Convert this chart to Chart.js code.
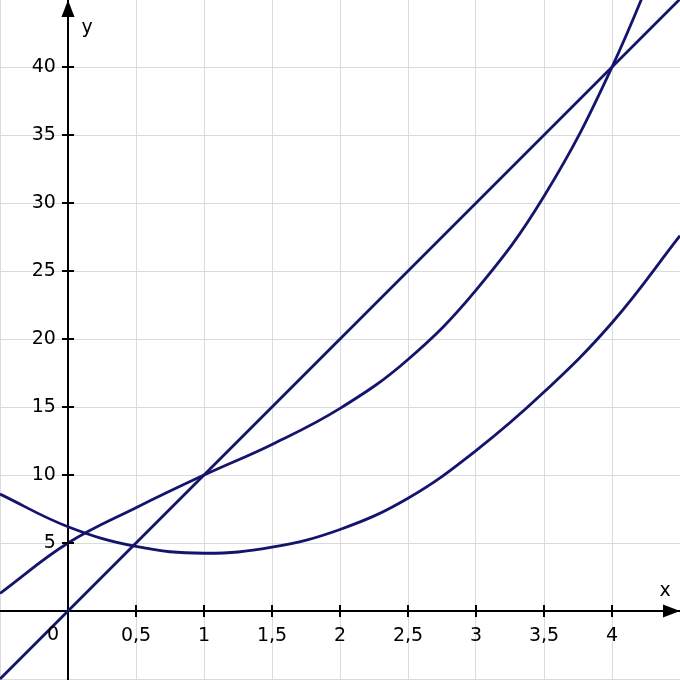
<!DOCTYPE html>
<html>
<head>
<meta charset="utf-8">
<script src="https://cdn.jsdelivr.net/npm/chart.js@4"></script>
<style>
  html, body { margin: 0; padding: 0; background: #fff; }
  canvas { display: block; }
</style>
</head>
<body>
<canvas id="myChart" width="680" height="680"></canvas>
<script>
// values
const xs = [-0.5, 0, 0.5, 1, 1.5, 2, 2.5, 3, 3.5, 4, 4.5];
const middleY = [1.3, 5, 7.6, 10, 12.25, 14.9, 18.5, 23.6, 30.5, 40, 52];
const lowerY = [8.6, 6.2, 4.75, 4.25, 4.7, 6.0, 8.3, 11.8, 16.1, 21.2, 27.6];
const lineX = [-0.5, 4.5];
const lineY = [-5, 45];
const xTicks = [0.5, 1, 1.5, 2, 2.5, 3, 3.5, 4];
const yTicks = [5, 10, 15, 20, 25, 30, 35, 40];
const yGrid = [-5, 0, 5, 10, 15, 20, 25, 30, 35, 40];

const curveColor = '#14146e';
const fontFamily = "'DejaVu Sans', Verdana, sans-serif";

function pts(xv, yv) {
  return xv.map(function (x, i) { return { x: x, y: yv[i] }; });
}

function findTick(list, v) {
  for (let i = 0; i < list.length; i++) {
    if (Math.abs(list[i] - v) < 1e-6) return list[i];
  }
  return null;
}

function zeroPadding(scale) {
  scale.paddingLeft = 0;
  scale.paddingRight = 0;
  scale.paddingTop = 0;
  scale.paddingBottom = 0;
}

// arrows, axis names, origin label and crossing tick marks
const axisExtras = {
  id: 'axisExtras',
  afterDraw(chart) {
    const ctx = chart.ctx;
    const sx = chart.scales.x;
    const sy = chart.scales.y;
    const ox = sx.getPixelForValue(0);
    const oy = sy.getPixelForValue(0);
    const area = chart.chartArea;
    ctx.save();
    ctx.strokeStyle = '#000';
    ctx.lineWidth = 2;
    ctx.beginPath();
    xTicks.forEach(function (v) {
      const p = sx.getPixelForValue(v);
      ctx.moveTo(p, oy - 6);
      ctx.lineTo(p, oy + 6);
    });
    yTicks.forEach(function (v) {
      const p = sy.getPixelForValue(v);
      ctx.moveTo(ox - 6, p);
      ctx.lineTo(ox + 6, p);
    });
    ctx.stroke();

    ctx.fillStyle = '#000';
    ctx.beginPath();
    ctx.moveTo(ox, area.top);
    ctx.lineTo(ox - 6.5, area.top + 17);
    ctx.lineTo(ox + 6.5, area.top + 17);
    ctx.closePath();
    ctx.fill();
    ctx.beginPath();
    ctx.moveTo(area.right, oy);
    ctx.lineTo(area.right - 17, oy - 6.5);
    ctx.lineTo(area.right - 17, oy + 6.5);
    ctx.closePath();
    ctx.fill();

    ctx.font = '19px ' + fontFamily;
    ctx.textAlign = 'center';
    ctx.textBaseline = 'alphabetic';
    ctx.fillText('y', ox + 19, 33);
    ctx.fillText('x', area.right - 15, oy - 15);
    ctx.fillText('0', ox - 15, oy + 29);
    ctx.restore();
  }
};

const ctx = document.getElementById('myChart').getContext('2d');
const myChart = new Chart(ctx, {
  type: 'line',
  data: {
    datasets: [
      { data: pts(lineX, lineY), borderColor: curveColor, borderWidth: 2.8, pointRadius: 0, tension: 0 },
      { data: pts(xs, middleY), borderColor: curveColor, borderWidth: 2.8, pointRadius: 0, tension: 0.4 },
      { data: pts(xs, lowerY), borderColor: curveColor, borderWidth: 2.8, pointRadius: 0, tension: 0.4 }
    ]
  },
  options: {
    responsive: false,
    animation: false,
    devicePixelRatio: 1,
    layout: { padding: 0 },
    plugins: { legend: { display: false }, tooltip: { enabled: false } },
    scales: {
      x: {
        type: 'linear',
        position: { y: 0 },
        min: -0.5,
        max: 4.5,
        afterFit: zeroPadding,
        grid: { color: '#dadada', lineWidth: 1, drawTicks: false },
        border: { color: '#000', width: 2 },
        ticks: {
          stepSize: 0.5,
          padding: 14,
          color: '#000',
          font: { family: fontFamily, size: 19 },
          callback: function (v) {
            const t = findTick(xTicks, v);
            return t === null ? '' : String(t).replace('.', ',');
          }
        }
      },
      y: {
        type: 'linear',
        position: { x: 0 },
        min: -5.07,
        max: 44.93,
        afterFit: zeroPadding,
        afterBuildTicks: function (scale) {
          scale.ticks = yGrid.map(function (v) { return { value: v }; });
        },
        grid: { color: '#dadada', lineWidth: 1, drawTicks: false },
        border: { color: '#000', width: 2 },
        ticks: {
          color: '#000',
          font: { family: fontFamily, size: 19 },
          // centre-placed axes ignore padding, so trailing spaces keep the gap
          callback: function (v) {
            const t = findTick(yTicks, v);
            return t === null ? '' : String(t) + '  ';
          }
        }
      }
    }
  },
  plugins: [axisExtras]
});
</script>
</body>
</html>
